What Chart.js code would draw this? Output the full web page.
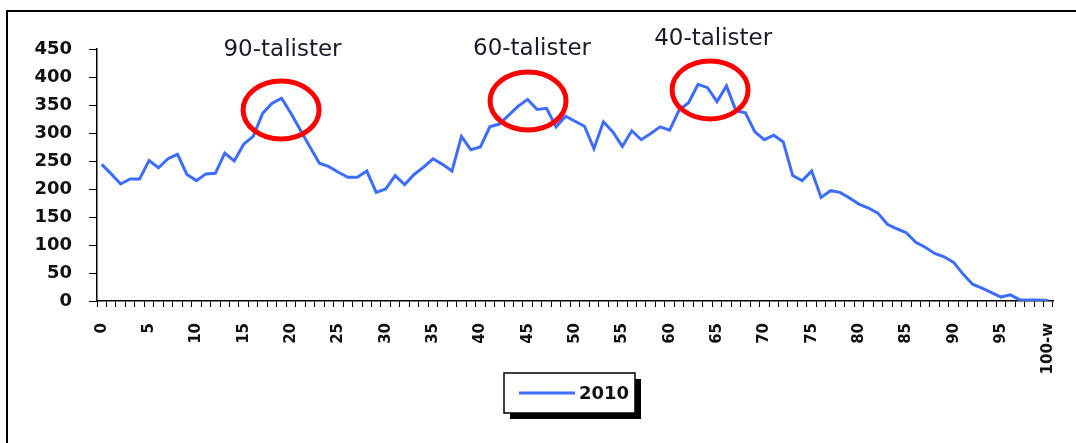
<!DOCTYPE html>
<html>
<head>
<meta charset="utf-8">
<script src="https://cdn.jsdelivr.net/npm/chart.js@4/dist/chart.umd.min.js"></script>
<style>
  html, body { margin: 0; padding: 0; background: #fff; }
  #frame {
    position: absolute; left: 6px; top: 10px; width: 1090px; height: 460px;
    border-top: 2px solid #000; border-left: 2px solid #000;
  }
  #chart { position: absolute; left: 0; top: 0; }
</style>
</head>
<body>
<div id="frame"></div>
<canvas id="chart" width="1076" height="443"></canvas>
<script>
// age categories 0..99 plus the open last group
const ages = [
  "0", "1", "2", "3", "4", "5", "6", "7", "8", "9",
  "10", "11", "12", "13", "14", "15", "16", "17", "18", "19",
  "20", "21", "22", "23", "24", "25", "26", "27", "28", "29",
  "30", "31", "32", "33", "34", "35", "36", "37", "38", "39",
  "40", "41", "42", "43", "44", "45", "46", "47", "48", "49",
  "50", "51", "52", "53", "54", "55", "56", "57", "58", "59",
  "60", "61", "62", "63", "64", "65", "66", "67", "68", "69",
  "70", "71", "72", "73", "74", "75", "76", "77", "78", "79",
  "80", "81", "82", "83", "84", "85", "86", "87", "88", "89",
  "90", "91", "92", "93", "94", "95", "96", "97", "98", "99",
  "100-w"
];

const count2010 = [
  244, 227, 209, 218, 218, 251, 238, 254, 262, 226,
  215, 227, 228, 264, 250, 280, 294, 335, 353, 362,
  335, 305, 275, 246, 240, 230, 221, 221, 232, 194,
  200, 224, 208, 226, 239, 254, 244, 232, 294, 270,
  275, 311, 316, 332, 348, 360, 342, 344, 311, 330,
  321, 312, 272, 320, 302, 276, 304, 288, 299, 311,
  305, 341, 354, 387, 381, 356, 384, 340, 336, 302,
  288, 296, 284, 224, 215, 232, 185, 197, 194, 184,
  173, 166, 157, 137, 129, 122, 105, 96, 85, 79,
  69, 48, 30, 23, 15, 7, 11, 2, 2, 2,
  1
];

const seriesName = "2010";
const yMax = 450;
const yStep = 50;

// circled generations: label, category index of the circle, value at its centre
const noteLabels = ["90-talister", "60-talister", "40-talister"];
const noteAt = [18.95, 45.04, 64.27];
const noteLevel = [341, 357, 377];
const noteTextAt = [19.1, 45.46, 64.6];
const noteTextLevel = [438, 440, 457];

const FONT = "'DejaVu Sans', Arial, sans-serif";
const BLUE = "#3d6dff";

const notesPlugin = {
  id: "notes",
  afterDatasetsDraw(chart) {
    const { ctx, scales } = chart;
    const x = scales.x, y = scales.y;
    ctx.save();
    ctx.strokeStyle = "#ff0000";
    ctx.lineWidth = 5;
    noteLabels.forEach((txt, i) => {
      ctx.beginPath();
      ctx.ellipse(x.getPixelForValue(noteAt[i]), y.getPixelForValue(noteLevel[i]), 38, 29, 0, 0, Math.PI * 2);
      ctx.stroke();
    });
    ctx.fillStyle = "#1a1a2a";
    ctx.font = "23px " + FONT;
    ctx.textAlign = "center";
    ctx.textBaseline = "alphabetic";
    noteLabels.forEach((txt, i) => {
      ctx.fillText(txt, x.getPixelForValue(noteTextAt[i]), y.getPixelForValue(noteTextLevel[i]));
    });
    ctx.restore();
  },
  afterDraw(chart) {
    // boxed legend with a hard drop shadow
    const { ctx, chartArea } = chart;
    const w = 131, h = 40;
    const bx = Math.round((chartArea.left + chartArea.right) / 2) - 71;
    const by = chartArea.bottom + 72;
    ctx.save();
    ctx.fillStyle = "#000";
    ctx.fillRect(bx + 6, by + 6, w, h);
    ctx.fillStyle = "#fff";
    ctx.fillRect(bx, by, w, h);
    ctx.strokeStyle = "#000";
    ctx.lineWidth = 1.5;
    ctx.strokeRect(bx, by, w, h);
    ctx.strokeStyle = chart.data.datasets[0].borderColor;
    ctx.lineWidth = 3;
    ctx.beginPath();
    ctx.moveTo(bx + 15, by + 20);
    ctx.lineTo(bx + 71, by + 20);
    ctx.stroke();
    ctx.fillStyle = "#111";
    ctx.font = "bold 18px " + FONT;
    ctx.textBaseline = "middle";
    ctx.fillText(chart.data.datasets[0].label, bx + 75, by + 21);
    ctx.restore();
  }
};

new Chart(document.getElementById("chart"), {
  type: "line",
  data: {
    labels: ages,
    datasets: [{
      label: seriesName,
      data: count2010,
      borderColor: BLUE,
      borderWidth: 3,
      pointRadius: 0,
      tension: 0,
      fill: false
    }]
  },
  options: {
    responsive: false,
    animation: false,
    events: [],
    layout: { padding: { top: 49, right: 23, left: 0, bottom: 0 } },
    plugins: { legend: { display: false }, tooltip: { enabled: false } },
    scales: {
      x: {
        offset: true,
        grid: { display: true, drawOnChartArea: false, drawTicks: true, tickLength: 6, color: "#000", offset: true },
        border: { display: true, color: "#000", width: 1.5 },
        ticks: {
          autoSkip: false,
          minRotation: 90,
          maxRotation: 90,
          padding: 16,
          color: "#111",
          font: { family: FONT, size: 15, weight: "bold" },
          callback(value, index) {
            return index % 5 === 0 || index === ages.length - 1 ? ages[index] : "";
          }
        },
        afterFit(scale) {
          scale.height = 142;
          scale.paddingLeft = 0;
          scale.paddingRight = 0;
        }
      },
      y: {
        min: 0,
        max: yMax,
        grid: { display: true, drawOnChartArea: false, drawTicks: true, tickLength: 8, color: "#000" },
        border: { display: true, color: "#000", width: 1.5 },
        ticks: {
          stepSize: yStep,
          padding: 17,
          color: "#111",
          font: { family: FONT, size: 18, weight: "bold" }
        },
        afterFit(scale) { scale.width = 97; }
      }
    }
  },
  plugins: [notesPlugin]
});
</script>
</body>
</html>
